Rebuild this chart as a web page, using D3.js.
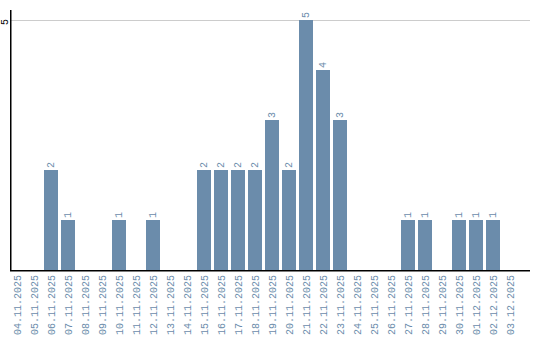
<!DOCTYPE html>
<html>
<head>
<meta charset="utf-8">
<script src="https://cdn.jsdelivr.net/npm/d3@7"></script>
<style>
  body { margin: 0; background: #fff; }
  text { font-family: "Liberation Mono", "DejaVu Sans Mono", monospace; }
</style>
</head>
<body>
<script>
var Width = 540;
var Height = 340;
var Left = 10;      // y axis position
var Bottom = 270;   // baseline
var Top = 20;       // where max value sits
var BarColor = "#6b8cab";

var dates = ["04.11.2025","05.11.2025","06.11.2025","07.11.2025","08.11.2025",
  "09.11.2025","10.11.2025","11.11.2025","12.11.2025","13.11.2025",
  "14.11.2025","15.11.2025","16.11.2025","17.11.2025","18.11.2025",
  "19.11.2025","20.11.2025","21.11.2025","22.11.2025","23.11.2025",
  "24.11.2025","25.11.2025","26.11.2025","27.11.2025","28.11.2025",
  "29.11.2025","30.11.2025","01.12.2025","02.12.2025","03.12.2025"];
var counts = [0,0,2,1,0, 0,1,0,1,0, 0,2,2,2,2, 3,2,5,4,3, 0,0,0,1,1, 0,1,1,1,0];
var yTicks = [5];

function main () {
  var svg = d3.select("body").append("svg")
    .attr("width", Width)
    .attr("height", Height);

  var xScale = d3.scaleBand()
    .domain(dates)
    .range([Left, Left + 17 * dates.length - 3])
    .paddingInner(3 / 17)
    .paddingOuter(0);

  var yScale = d3.scaleLinear()
    .domain([0, 5])
    .range([Bottom, Top]);

  // grid line(s)
  svg.selectAll("line.grid")
    .data(yTicks)
    .enter()
    .append("line")
    .attr("class", "grid")
    .attr("x1", Left + 1)
    .attr("x2", 530)
    .attr("y1", function(d) { return yScale(d) + 0.5; })
    .attr("y2", function(d) { return yScale(d) + 0.5; })
    .attr("stroke", "#cccccc")
    .attr("stroke-width", 1);

  svg.selectAll("text.ytick")
    .data(yTicks)
    .enter()
    .append("text")
    .attr("class", "ytick")
    .attr("transform", function(d) {
      return "translate(8," + (yScale(d) + 2) + ") rotate(-90)";
    })
    .attr("text-anchor", "middle")
    .attr("font-size", "10px")
    .attr("fill", "#000")
    .text(function(d) { return d; });

  // bars
  var withData = dates.map(function(d, i) { return { date: d, value: counts[i] }; });

  svg.selectAll("rect.bar")
    .data(withData.filter(function(d) { return d.value > 0; }))
    .enter()
    .append("rect")
    .attr("class", "bar")
    .attr("x", function(d) { return xScale(d.date); })
    .attr("y", function(d) { return yScale(d.value); })
    .attr("width", xScale.bandwidth())
    .attr("height", function(d) { return Bottom - yScale(d.value); })
    .attr("fill", BarColor);

  svg.selectAll("text.val")
    .data(withData.filter(function(d) { return d.value > 0; }))
    .enter()
    .append("text")
    .attr("class", "val")
    .attr("transform", function(d) {
      return "translate(" + (xScale(d.date) + xScale.bandwidth() / 2 + 3) + "," +
        (yScale(d.value) - 2) + ") rotate(-90)";
    })
    .attr("text-anchor", "start")
    .attr("font-size", "10px")
    .attr("fill", BarColor)
    .text(function(d) { return d.value; });

  // x labels
  svg.selectAll("text.xlab")
    .data(dates)
    .enter()
    .append("text")
    .attr("class", "xlab")
    .attr("transform", function(d) {
      return "translate(" + (xScale(d) + xScale.bandwidth() / 2 + 4) + "," +
        (Bottom + 5) + ") rotate(-90)";
    })
    .attr("text-anchor", "end")
    .attr("font-size", "10px")
    .attr("fill", BarColor)
    .text(function(d) { return d; });

  // axes lines
  svg.append("line")
    .attr("x1", Left + 0.75).attr("x2", Left + 0.75)
    .attr("y1", 10).attr("y2", Bottom + 1)
    .attr("stroke", "#000").attr("stroke-width", 1.5);
  svg.append("line")
    .attr("x1", Left).attr("x2", 530)
    .attr("y1", Bottom + 0.75).attr("y2", Bottom + 0.75)
    .attr("stroke", "#000").attr("stroke-width", 1.5);
}

main();
</script>
</body>
</html>
